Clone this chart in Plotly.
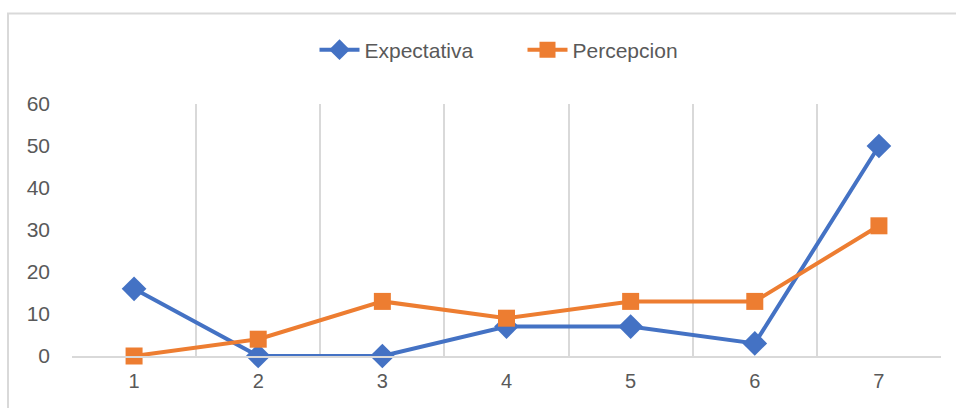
import plotly.graph_objects as go

categories = [1, 2, 3, 4, 5, 6, 7]
expectativa = [16, 0, 0, 7, 7, 3, 50]
percepcion = [0, 4, 13, 9, 13, 13, 31]
y_ticks = [0, 10, 20, 30, 40, 50, 60]

FONT = "Liberation Sans, Arial, sans-serif"
GRAY = "#595959"
GRID = "#d9d9d9"

W, H = 956, 408
L, R, T, B = 72, 15, 104, 52
pw, ph = W - L - R, H - T - B

fig = go.Figure()
fig.add_trace(go.Scatter(
    x=categories, y=expectativa, name="Expectativa", mode="lines+markers",
    line=dict(color="#4472C4", width=4),
    marker=dict(symbol="diamond", size=19, color="#4472C4"),
    cliponaxis=False,
))
fig.add_trace(go.Scatter(
    x=categories, y=percepcion, name="Percepcion", mode="lines+markers",
    line=dict(color="#ED7D31", width=4),
    marker=dict(symbol="square", size=17, color="#ED7D31"),
    cliponaxis=False,
))

# chart frame around the whole area
fig.add_shape(type="rect", xref="paper", yref="paper",
              x0=(8 - L) / pw, x1=(W + 20 - L) / pw,
              y0=-(H + 20 - T - ph) / ph, y1=1 + (T - 13.5) / ph,
              line=dict(color=GRID, width=2), layer="below")

fig.update_layout(
    width=W, height=H,
    margin=dict(l=L, r=R, t=T, b=B),
    paper_bgcolor="white", plot_bgcolor="white",
    font=dict(family=FONT, size=21, color=GRAY),
    showlegend=True,
    legend=dict(orientation="h", x=0.5 + 16 / pw, xanchor="center", y=1 + (T - 50) / ph,
                yanchor="middle", font=dict(family=FONT, size=21, color=GRAY),
                itemwidth=40, entrywidth=153, entrywidthmode="pixels",
                bgcolor="rgba(0,0,0,0)"),
    xaxis=dict(
        range=[0.5, 7.5], tickvals=categories, ticktext=[str(c) for c in categories],
        showgrid=False, zeroline=False, showline=True, linecolor=GRID, linewidth=2,
        ticks="", ticklabelstandoff=6, tickfont=dict(family=FONT, size=20, color=GRAY),
        minor=dict(tickvals=[c - 0.5 for c in categories] + [7.5], showgrid=True,
                   gridcolor=GRID, gridwidth=2, ticks=""),
        fixedrange=True,
    ),
    yaxis=dict(
        range=[0, 60], tickvals=y_ticks, showgrid=False, zeroline=False,
        showline=False, ticks="", ticklabelstandoff=21,
        tickfont=dict(family=FONT, size=21, color=GRAY), fixedrange=True,
    ),
)

fig.write_html("out.html")
